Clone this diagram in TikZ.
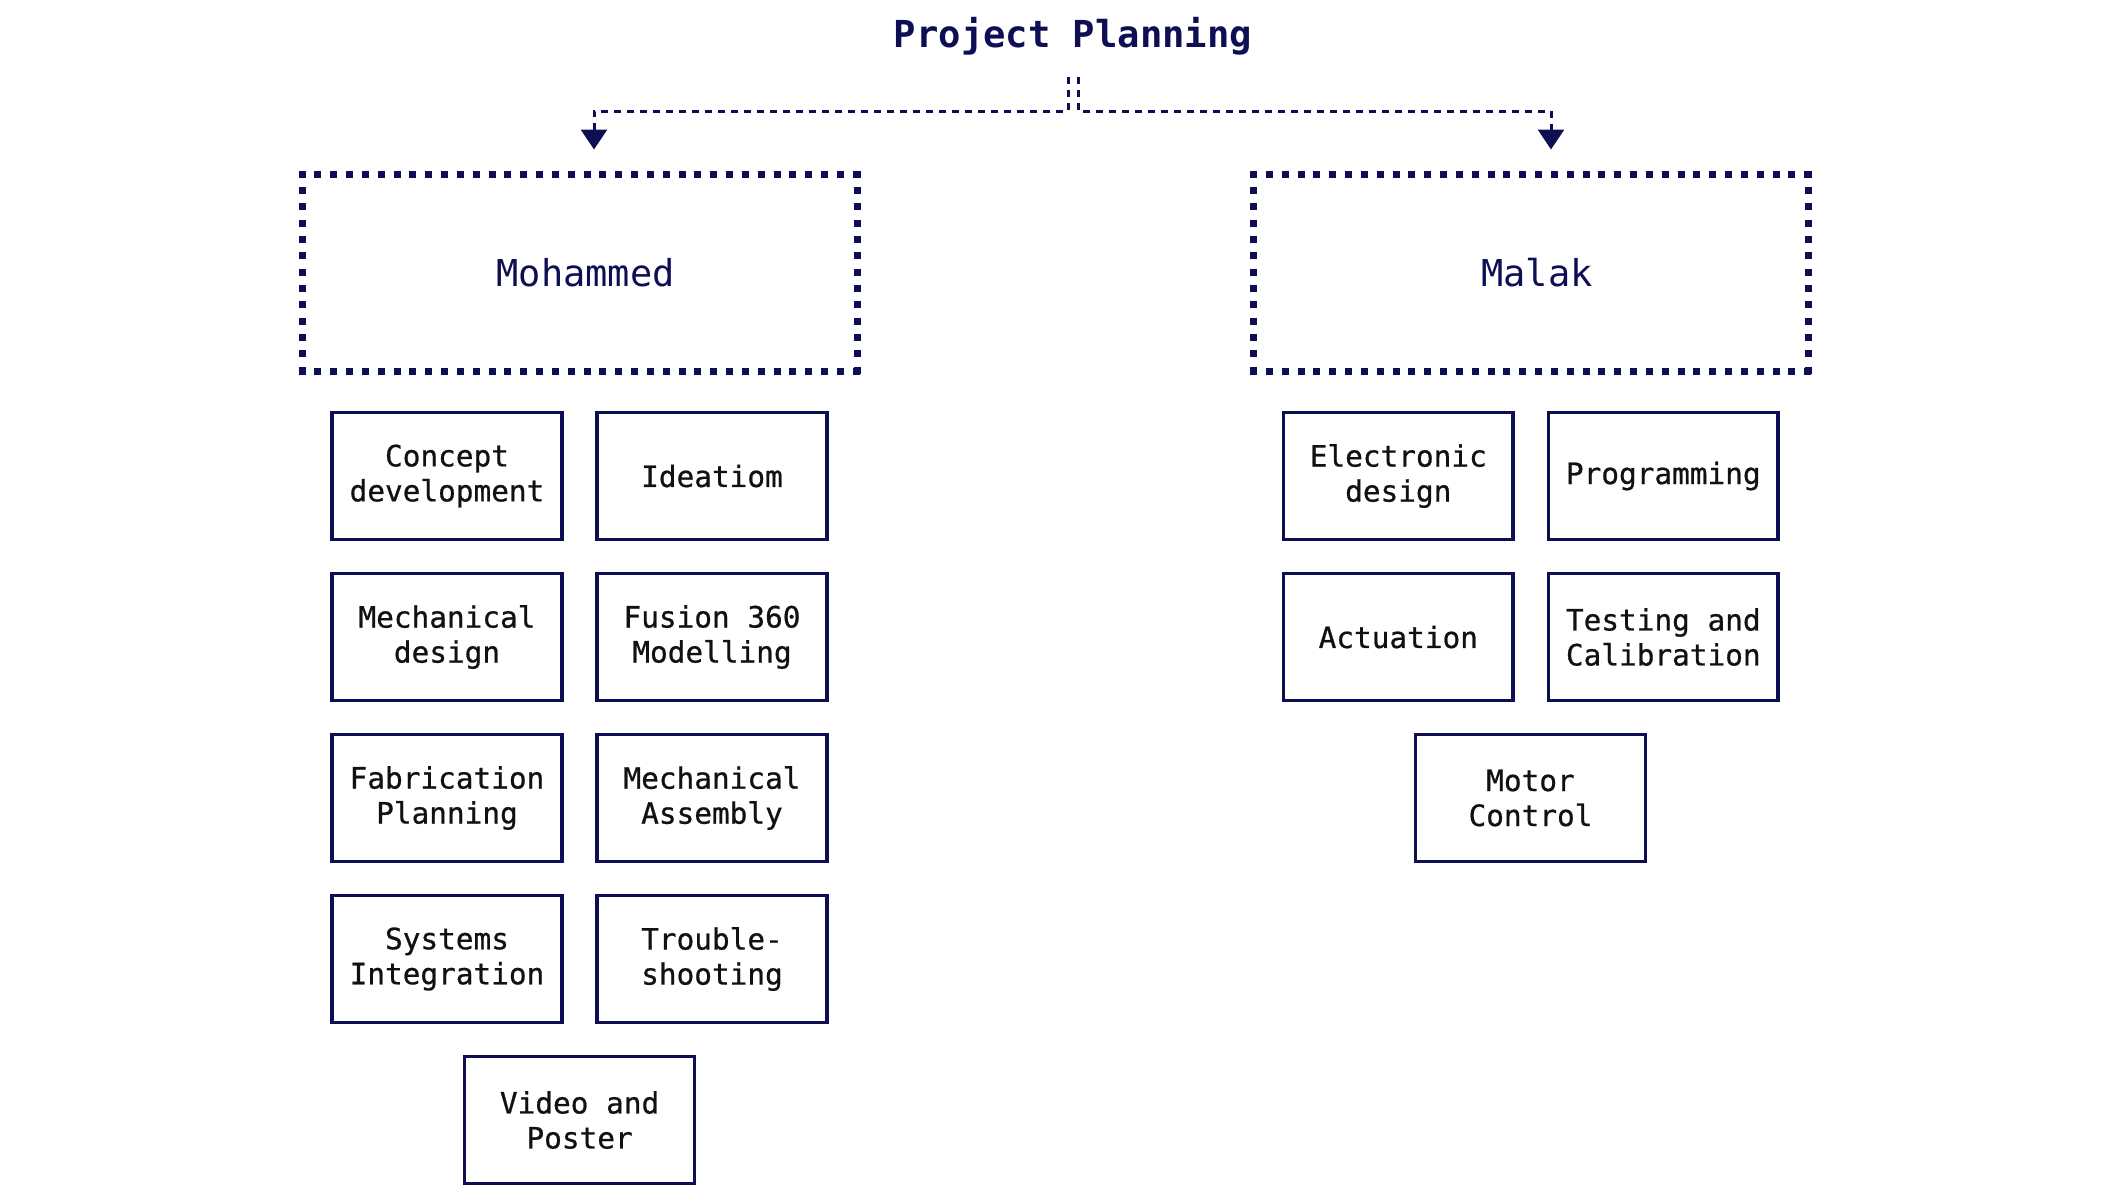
\documentclass[tikz,border=0pt]{standalone}
\usepackage{fontspec}
\setmonofont{DejaVu Sans Mono}
\newfontfamily\taskfont{DejaVu Sans Mono}[FakeBold=0.7]
\usetikzlibrary{arrows.meta,calc}
\definecolor{navy}{RGB}{14,14,84}
\definecolor{ink}{RGB}{17,17,17}
\begin{document}
\begin{tikzpicture}[x=0.5pt,y=-0.5pt,
  taskbox/.style={draw=navy,line width=1.7pt,minimum width=114.85pt,minimum height=63.35pt,inner sep=0pt,align=center,font=\taskfont\fontsize{14.7}{17.5}\selectfont,text=ink},
  personbox/.style={minimum width=277.1pt,minimum height=98.1pt,inner sep=0pt},
  personlabel/.style={font=\ttfamily\fontsize{18.5}{22}\selectfont,text=navy},
  hdots/.style={draw=navy,line width=3.5pt,dash pattern=on 3.5pt off 4.417pt},
  vdots/.style={draw=navy,line width=3.5pt,dash pattern=on 3.5pt off 4.675pt},
  conn/.style={draw=navy,line width=1.5pt,dash pattern=on 3.5pt off 3pt},
  arrowconn/.style={conn,-{Triangle[width=13pt,length=10pt]}}
]
\useasboundingbox (0,0) rectangle (2111,1201);

% title
\node[font=\ttfamily\bfseries\fontsize{18.6}{22}\selectfont,text=navy,anchor=base] (title) at (1073,47) {Project Planning};

% person boxes
\node[personbox] (mo) at (579.6,272.5) {};
\node[personbox] (ma) at (1531,272.5) {};
\node[personlabel] (moL) at ([xshift=3pt]mo.center) {Mohammed};
\node[personlabel] (maL) at ([xshift=3pt]ma.center) {Malak};

\foreach \b in {mo,ma}{
  \draw[hdots] ([xshift=-1.75pt]\b.north west) -- ([xshift=1.75pt]\b.north east);
  \draw[hdots] ([xshift=-1.75pt]\b.south west) -- ([xshift=1.75pt]\b.south east);
  \draw[vdots] ([yshift=1.75pt]\b.north west) -- ([yshift=-1.75pt]\b.south west);
  \draw[vdots] ([yshift=1.75pt]\b.north east) -- ([yshift=-1.75pt]\b.south east);
}

% connectors
\coordinate (sL) at (1068,77);
\coordinate (sR) at (1078,77);
\coordinate (hy) at (0,111);
\coordinate (aL) at (594,149.5);
\coordinate (aR) at (1551,149.5);
\draw[arrowconn] (sL) |- (hy -| aL) -- (aL);
\draw[arrowconn] (sR) |- (hy -| aR) -- (aR);

% Mohammed tasks
\node[taskbox] (t1) at (447,476) {Concept\\development};
\node[taskbox] (t2) at (712,476) {Ideatiom};
\node[taskbox] (t3) at (447,637) {Mechanical\\design};
\node[taskbox] (t4) at (712,637) {Fusion 360\\Modelling};
\node[taskbox] (t5) at (447,798) {Fabrication\\Planning};
\node[taskbox] (t6) at (712,798) {Mechanical\\Assembly};
\node[taskbox] (t7) at (447,959) {Systems\\Integration};
\node[taskbox] (t8) at (712,959) {Trouble-\\shooting};
\node[taskbox] (t9) at (579.6,1120) {Video and\\Poster};

% Malak tasks
\node[taskbox] (u1) at (1398.3,476) {Electronic\\design};
\node[taskbox] (u2) at (1663.3,476) {Programming};
\node[taskbox] (u3) at (1398.3,637) {Actuation};
\node[taskbox] (u4) at (1663.3,637) {Testing and\\Calibration};
\node[taskbox] (u5) at (1530.5,798) {Motor\\Control};
\end{tikzpicture}
\end{document}
